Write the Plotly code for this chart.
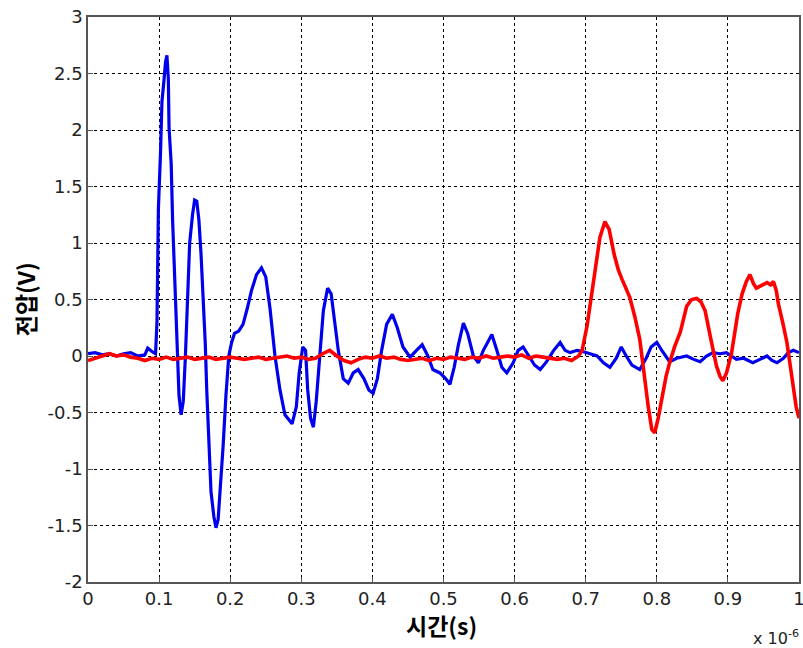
import plotly.graph_objects as go

# Blue trace (time in units of 1e-6 s, voltage in V)
blue_t = [0, 0.01, 0.02, 0.03, 0.04, 0.05, 0.06, 0.07, 0.08, 0.084, 0.09, 0.095,
          0.097, 0.099, 0.102, 0.104, 0.107, 0.109, 0.111, 0.113, 0.114, 0.117, 0.119,
          0.122, 0.125, 0.128, 0.131, 0.134, 0.137, 0.140, 0.143, 0.147, 0.150, 0.153,
          0.156, 0.159, 0.162, 0.165, 0.167, 0.170, 0.173, 0.177, 0.180, 0.183, 0.186,
          0.190, 0.194, 0.198, 0.202, 0.206, 0.212, 0.218, 0.224, 0.230, 0.237, 0.244,
          0.250, 0.256, 0.263, 0.270, 0.277, 0.287, 0.293, 0.297, 0.302, 0.306, 0.309,
          0.313, 0.317, 0.321, 0.326, 0.331, 0.337, 0.342, 0.347, 0.352, 0.359, 0.366,
          0.373, 0.380, 0.388, 0.395, 0.401, 0.407, 0.413, 0.420, 0.428, 0.435, 0.443,
          0.453, 0.462, 0.470, 0.478, 0.485, 0.495, 0.503, 0.509, 0.515, 0.521, 0.528,
          0.534, 0.542, 0.549, 0.556, 0.562, 0.568, 0.575, 0.582, 0.589, 0.598, 0.605,
          0.612, 0.620, 0.628, 0.636, 0.645, 0.655, 0.664, 0.671, 0.678, 0.688, 0.696,
          0.706, 0.716, 0.725, 0.734, 0.743, 0.750, 0.757, 0.765, 0.776, 0.785, 0.792,
          0.800, 0.808, 0.818, 0.828, 0.842, 0.852, 0.861, 0.870, 0.879, 0.889, 0.898,
          0.905, 0.912, 0.922, 0.935, 0.945, 0.955, 0.962, 0.969, 0.978, 0.985, 0.992, 1.0]
blue_v = [0.02, 0.03, 0.01, 0.02, 0.0, 0.02, 0.03, 0.0, 0.01, 0.07, 0.04, 0.02,
          0.3, 1.3, 1.8, 2.25, 2.45, 2.6, 2.66, 2.45, 2.02, 1.7, 1.2,
          0.7, 0.1, -0.35, -0.52, -0.4, 0.0, 0.55, 1.0, 1.25, 1.38, 1.37,
          1.2, 0.9, 0.55, 0.1, -0.3, -0.8, -1.2, -1.42, -1.52, -1.45, -1.2,
          -0.8, -0.35, 0.0, 0.12, 0.2, 0.22, 0.28, 0.42, 0.58, 0.72, 0.78,
          0.7, 0.42, 0.0, -0.3, -0.52, -0.6, -0.45, -0.15, 0.08, 0.05, -0.3,
          -0.55, -0.63, -0.4, 0.0, 0.4, 0.6, 0.55, 0.3, 0.05, -0.2, -0.24,
          -0.15, -0.12, -0.2, -0.3, -0.33, -0.2, 0.05, 0.28, 0.37, 0.25, 0.08,
          -0.01, 0.05, 0.10, 0.0, -0.12, -0.15, -0.2, -0.25, -0.1, 0.1, 0.29,
          0.2, 0.0, -0.06, 0.05, 0.12, 0.19, 0.05, -0.1, -0.15, -0.06, 0.05,
          0.08, 0.0, -0.08, -0.12, -0.05, 0.05, 0.12, 0.05, 0.03, 0.05, 0.04,
          0.02, 0.0, -0.06, -0.10, -0.02, 0.08, 0.0, -0.08, -0.12, -0.02, 0.08,
          0.12, 0.04, -0.05, -0.02, 0.0, -0.03, -0.05, 0.0, 0.03, 0.02, 0.03,
          0.0, -0.03, -0.02, -0.06, -0.03, 0.0, -0.04, -0.06, -0.02, 0.03, 0.05, 0.03]

# Red trace
red_t = [0, 0.01, 0.02, 0.03, 0.04, 0.05, 0.06, 0.07, 0.08, 0.09, 0.10, 0.11, 0.12,
         0.13, 0.14, 0.15, 0.16, 0.17, 0.18, 0.19, 0.20, 0.21, 0.22, 0.23, 0.24, 0.25,
         0.26, 0.27, 0.28, 0.29, 0.30, 0.31, 0.32, 0.33, 0.34, 0.35, 0.36, 0.37, 0.38,
         0.39, 0.40, 0.41, 0.42, 0.43, 0.44, 0.45, 0.46, 0.47, 0.48, 0.49, 0.50, 0.51,
         0.52, 0.53, 0.54, 0.55, 0.56, 0.57, 0.58, 0.59, 0.60, 0.61, 0.62, 0.63, 0.64,
         0.65, 0.66, 0.67, 0.68, 0.69, 0.695, 0.702, 0.709, 0.715, 0.720, 0.727, 0.733,
         0.740, 0.746, 0.751, 0.757, 0.762, 0.769, 0.776, 0.780, 0.783, 0.788, 0.793,
         0.797, 0.802, 0.808, 0.813, 0.818, 0.825, 0.833, 0.838, 0.842, 0.849, 0.856,
         0.862, 0.868, 0.875, 0.880, 0.884, 0.889, 0.893, 0.898, 0.905, 0.910, 0.914,
         0.920, 0.926, 0.931, 0.936, 0.940, 0.947, 0.955, 0.960, 0.964, 0.968, 0.971,
         0.977, 0.983, 0.988, 0.992, 0.996, 1.0]
red_v = [-0.04, -0.02, 0.0, 0.02, 0.0, 0.01, -0.01, -0.02, -0.04, -0.02, -0.03, -0.01, -0.03,
         -0.02, -0.01, -0.03, -0.02, -0.01, -0.03, -0.02, -0.01, -0.02, -0.03, -0.02, -0.01, -0.03,
         -0.02, -0.01, 0.0, -0.02, -0.01, -0.03, -0.02, 0.02, 0.05, 0.0, -0.04, -0.06, -0.03,
         -0.01, -0.02, 0.0, -0.02, -0.01, -0.03, -0.04, -0.03, -0.02, -0.04, -0.02, -0.03, -0.01,
         -0.02, -0.03, -0.01, -0.02, 0.0, -0.02, -0.01, 0.0, -0.01, 0.01, -0.02, 0.0, -0.01,
         -0.02, -0.03, -0.02, -0.04, 0.0, 0.05, 0.27, 0.59, 0.85, 1.05, 1.19, 1.12,
         0.9, 0.76, 0.68, 0.6, 0.52, 0.35, 0.15, -0.05, -0.21, -0.45, -0.65,
         -0.68, -0.55, -0.35, -0.18, -0.06, 0.08, 0.21, 0.35, 0.44, 0.5, 0.51,
         0.48, 0.4, 0.18, 0.02, -0.09, -0.18, -0.22, -0.15, 0.02, 0.22, 0.38,
         0.55, 0.66, 0.72, 0.64, 0.6, 0.62, 0.65, 0.63, 0.66, 0.58, 0.46,
         0.3, 0.12, -0.1, -0.3, -0.45, -0.55]

x_ticks = [0, 0.1, 0.2, 0.3, 0.4, 0.5, 0.6, 0.7, 0.8, 0.9, 1]
x_labels = ["0", "0.1", "0.2", "0.3", "0.4", "0.5", "0.6", "0.7", "0.8", "0.9", "1"]
y_ticks = [-2, -1.5, -1, -0.5, 0, 0.5, 1, 1.5, 2, 2.5, 3]
y_labels = ["-2", "-1.5", "-1", "-0.5", "0", "0.5", "1", "1.5", "2", "2.5", "3"]

fig = go.Figure()
fig.add_trace(go.Scatter(x=blue_t, y=blue_v, mode='lines',
                         line=dict(color='#0000EE', width=3.2), showlegend=False))
fig.add_trace(go.Scatter(x=red_t, y=red_v, mode='lines',
                         line=dict(color='#FF0000', width=3.6), showlegend=False))

axis_common = dict(
    showline=True, mirror=True, linecolor='#555555', linewidth=1.5,
    showgrid=True, gridcolor='black', gridwidth=1, griddash='3px,3px',
    zeroline=False, ticks='inside', ticklen=5, tickcolor='#555555',
    tickfont=dict(family='DejaVu Sans', size=18, color='#222222'),
    automargin=False, ticklabeloverflow='allow',
)

fig.update_xaxes(range=[0, 1], tickvals=x_ticks, ticktext=x_labels, **axis_common)
fig.update_yaxes(range=[-2, 3], tickvals=y_ticks, ticktext=y_labels, **axis_common)

# axis titles placed as annotations for exact placement
title_font = dict(family='Noto Sans CJK KR', size=23, color='black')
fig.add_annotation(text='<b>시간(s)</b>', xref='paper', yref='paper',
                   x=0.497, y=-0.076, xanchor='center', yanchor='middle',
                   showarrow=False, font=title_font)
fig.add_annotation(text='<b>전압(V)</b>', xref='paper', yref='paper',
                   x=-0.089, y=0.5, xanchor='center', yanchor='middle',
                   textangle=-90, showarrow=False, font=title_font)
fig.add_annotation(text='x 10<sup>-6</sup>', xref='paper', yref='paper',
                   x=1.0, y=-0.099, xanchor='right', yanchor='middle', xshift=2,
                   showarrow=False, font=dict(family='DejaVu Sans', size=16, color='#222222'))

fig.update_layout(
    width=803, height=648,
    margin=dict(l=88, r=4, t=17, b=66),
    paper_bgcolor='white', plot_bgcolor='white',
)

# drop the default page margin so the figure fills the window exactly
fig.write_html("out.html", config={'displayModeBar': False},
               post_script="document.body.style.margin='0px';")
